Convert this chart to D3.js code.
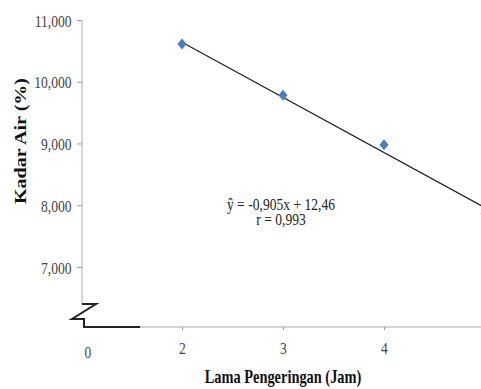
<!DOCTYPE html>
<html>
<head>
<meta charset="utf-8">
<script src="https://cdn.jsdelivr.net/npm/d3@7"></script>
<style>
  body { margin: 0; background: #fff; }
  text { font-family: "Liberation Serif", "Times New Roman", serif; }
</style>
</head>
<body>
<div id="chart"></div>
<script>
// Data
var jam = [2, 3, 4, 5];
var kadarAir = [10.61, 9.78, 8.98, 7.86];
var xTicks = [2, 3, 4, 5];
var yTicks = [7, 8, 9, 10, 11];
var trendX = [2, 5];
var trendY = [10.64, 7.96];
var persamaan = "ŷ = -0,905x + 12,46";
var korelasi = "r = 0,993";

var width = 481, height = 389;
var squeeze = 0.8; // the source text is narrow

var svg = d3.select("#chart").append("svg")
    .attr("width", width)
    .attr("height", height);

// Scales
var xScale = d3.scaleLinear().domain([2, 5]).range([182, 485]);
var yScale = d3.scaleLinear().domain([6.4, 11]).range([304, 20]);
// broken segment before x=2
var xBreak = d3.scaleLinear().domain([0, 1]).range([88, 135]);

var fmt = function (d) { return d3.format(",.3f")(d).replace(".", ","); };

// narrow text helper
function label(x, y, txt, size, bold) {
    return svg.append("text")
        .attr("transform", "translate(" + x + "," + y + ") scale(" + squeeze + ",1)")
        .attr("text-anchor", "middle")
        .attr("fill", bold ? "#111" : "#333")
        .style("font-size", size + "px")
        .style("font-weight", bold ? "bold" : "normal")
        .text(txt);
}

// y-axis
var yAxis = svg.append("g")
    .attr("transform", "translate(82,0)")
    .call(d3.axisLeft(yScale).tickValues(yTicks).tickSize(5).tickFormat(fmt));
yAxis.select(".domain").attr("stroke", "#aaa").attr("d", "M0," + yScale(11) + "V" + yScale(6.4));
yAxis.selectAll(".tick line").attr("stroke", "#999");
yAxis.selectAll(".tick text")
    .attr("x", -13)
    .attr("dy", "0.36em")
    .attr("transform", "scale(" + squeeze + ",1)")
    .attr("fill", "#444")
    .style("font-size", "17px");

// x-axis
var xAxisY = 327;
var xAxis = svg.append("g")
    .attr("transform", "translate(0," + xAxisY + ")")
    .call(d3.axisBottom(xScale).tickValues(xTicks).tickSize(3).tickFormat(d3.format("d")));
xAxis.select(".domain").attr("stroke", "#aaa").attr("d", "M140,0H" + width);
xAxis.selectAll(".tick line").attr("stroke", "#999");
xAxis.selectAll(".tick text")
    .attr("y", 15)
    .attr("transform", "scale(" + squeeze + ",1)")
    .attr("fill", "#444")
    .style("font-size", "17px");

// label 0 on the broken segment
label(xBreak(0), xAxisY + 31, "0", 17, false).attr("fill", "#444");

// axis break symbol
var brk = [[82, 304], [96, 304], [72, 319], [84, 319], [84, xAxisY], [140, xAxisY]];
svg.append("path")
    .attr("d", d3.line()(brk))
    .attr("fill", "none")
    .attr("stroke", "#222")
    .attr("stroke-width", 2);

// trend line
var trend = trendX.map(function (d, i) { return [d, trendY[i]]; });
svg.append("path")
    .datum(trend)
    .attr("fill", "none")
    .attr("stroke", "#222")
    .attr("stroke-width", 1.3)
    .attr("d", d3.line()
        .x(function (d) { return xScale(d[0]); })
        .y(function (d) { return yScale(d[1]); }));

// points
svg.selectAll(".pt")
    .data(jam)
    .enter().append("path")
    .attr("class", "pt")
    .attr("d", "M0,-5.5L4.5,0L0,5.5L-4.5,0Z")
    .attr("transform", function (d, i) { return "translate(" + xScale(d) + "," + yScale(kadarAir[i]) + ")"; })
    .attr("fill", "#4a7ebb");

// equation
label(281, 210, persamaan, 17, false).attr("fill", "#222");
label(281, 225, korelasi, 17, false).attr("fill", "#222");

// axis titles
label(283, 383, "Lama Pengeringan (Jam)", 18, true);

svg.append("text")
    .attr("transform", "translate(26,141) scale(" + squeeze + ",1) rotate(-90)")
    .attr("text-anchor", "middle")
    .attr("fill", "#111")
    .style("font-size", "20px")
    .style("font-weight", "bold")
    .text("Kadar Air (%)");
</script>
</body>
</html>
